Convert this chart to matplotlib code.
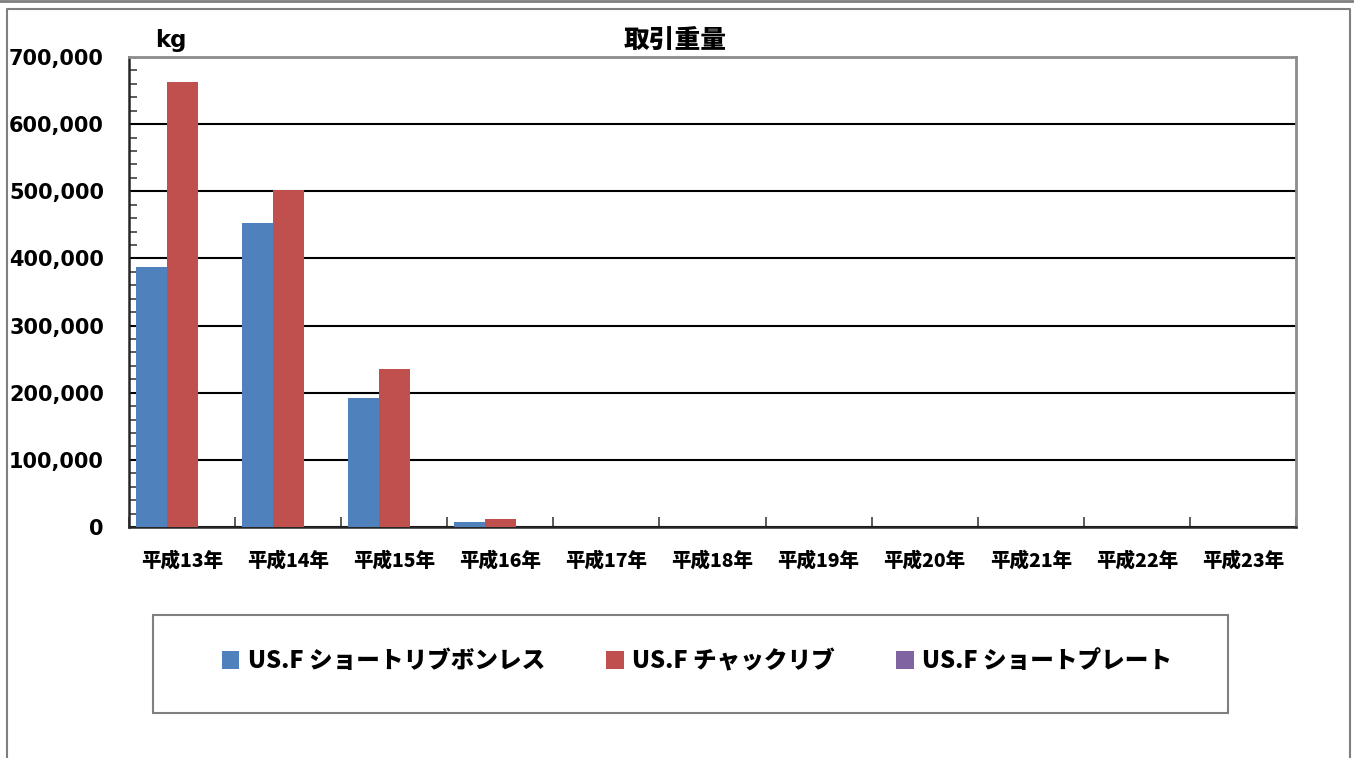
import matplotlib
matplotlib.use("Agg")
import matplotlib.pyplot as plt
from matplotlib.patches import Rectangle
from matplotlib.lines import Line2D
from matplotlib.ticker import MultipleLocator, FuncFormatter
import numpy as np

categories = ["平成13年", "平成14年", "平成15年", "平成16年", "平成17年", "平成18年",
              "平成19年", "平成20年", "平成21年", "平成22年", "平成23年"]
series_names = ["US.F ショートリブボンレス", "US.F チャックリブ", "US.F ショートプレート"]
short_rib = [387000, 453000, 192000, 8000, 0, 0, 0, 0, 0, 0, 0]
chuck_rib = [663000, 502000, 235000, 12500, 0, 0, 0, 0, 0, 0, 0]
short_plate = [0, 0, 0, 0, 0, 0, 0, 0, 0, 0, 0]
colors = ["#4F81BD", "#C0504D", "#8064A2"]

CJK = ["Noto Sans CJK JP", "DejaVu Sans"]

W, H = 1354, 758
fig = plt.figure(figsize=(W / 100, H / 100), dpi=100)

def fx(px):
    return px / W

def fy(py):
    return 1 - py / H

# outer frame lines
fig.add_artist(Line2D([0, 1], [fy(1), fy(1)], color="#7f7f7f", lw=2, transform=fig.transFigure))
fig.add_artist(Line2D([fx(7), fx(7), fx(1350), fx(1350)], [0, fy(9), fy(9), 0],
                      color="#7f7f7f", lw=1.5, transform=fig.transFigure))

ax = fig.add_axes([fx(129), fy(527), fx(1296) - fx(129), fy(57) - fy(527)])

x = np.arange(len(categories))
bw = 0.292
all_series = [short_rib, chuck_rib, short_plate]
handles = []
for i, (vals, c) in enumerate(zip(all_series, colors)):
    b = ax.bar(x + (i - 1) * bw, vals, width=bw, color=c, edgecolor="none", zorder=3,
               label=series_names[i])
    handles.append(b)

ax.set_xlim(-0.5, len(categories) - 0.5)
ax.set_ylim(0, 700000)
ax.yaxis.set_major_locator(MultipleLocator(100000))
ax.yaxis.set_minor_locator(MultipleLocator(20000))
ax.yaxis.set_major_formatter(FuncFormatter(lambda v, p: f"{int(v):,}"))
ax.grid(axis="y", which="major", color="black", lw=1.5, zorder=1)
ax.set_axisbelow(True)

ax.set_xticks(x)
ax.set_xticklabels(categories, fontfamily=CJK, fontweight="black", fontsize=14)
ax.set_xticks(np.arange(len(categories) + 1) - 0.5, minor=True)
ax.tick_params(axis="x", which="major", length=0, pad=17)
ax.tick_params(axis="x", which="minor", length=7, direction="in", color="#404040", width=1.2)
ax.tick_params(axis="y", which="major", length=0, pad=18, labelsize=15)
ax.tick_params(axis="y", which="minor", length=6, direction="in", color="#404040", width=1.2)
for lab in ax.get_yticklabels():
    lab.set_fontweight("bold")
    lab.set_fontfamily("DejaVu Sans")

for s in ["top", "right"]:
    ax.spines[s].set_color("#8c8c8c")
    ax.spines[s].set_linewidth(2)
for s in ["left", "bottom"]:
    ax.spines[s].set_color("#262626")
    ax.spines[s].set_linewidth(1.8)

fig.text(fx(675), fy(40), "取引重量", ha="center", va="center", fontfamily=CJK,
         fontweight="black", fontsize=18.5)
fig.text(fx(171), fy(40), "kg", ha="center", va="center", fontfamily="DejaVu Sans",
         fontweight="bold", fontsize=16.5)

# legend box
fig.add_artist(Rectangle((fx(153), fy(713)), fx(1228) - fx(153), fy(615) - fy(713),
                         transform=fig.transFigure, fill=False, edgecolor="#7f7f7f", lw=1.5))
leg = fig.legend(handles=handles, labels=series_names, loc="center",
                 bbox_to_anchor=(fx(697), fy(661)), ncol=3, frameon=False,
                 prop={"family": CJK, "weight": "black", "size": 17},
                 handlelength=0.75, handleheight=0.75, handletextpad=0.35, columnspacing=2.6)

fig.savefig("out.png", dpi=100)
